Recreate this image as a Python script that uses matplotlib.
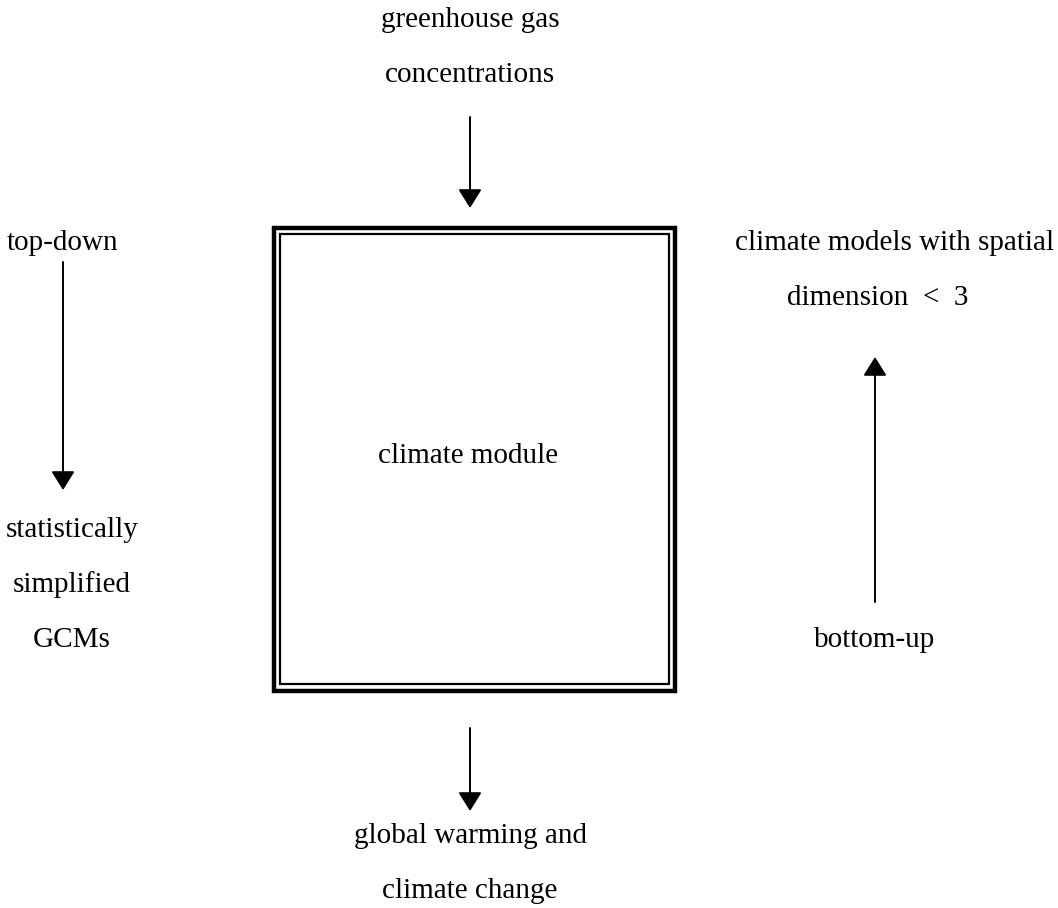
import matplotlib.pyplot as plt
from matplotlib.patches import Rectangle

plt.rcParams['font.family'] = ['Liberation Serif', 'DejaVu Serif']

# labels of the diagram
top_labels = ["greenhouse gas", "concentrations"]
bottom_labels = ["global warming and", "climate change"]
left_labels = ["top-down"]
left_bottom_labels = ["statistically", "simplified", "GCMs"]
right_labels = ["climate models with spatial"]
right_labels_2 = ["dimension  <  3"]
right_bottom_labels = ["bottom-up"]
centre_label = "climate module"

W, H = 1058, 908
fig = plt.figure(figsize=(W / 100, H / 100), dpi=100)
ax = fig.add_axes([0, 0, 1, 1])
ax.set_xlim(0, W)
ax.set_ylim(H, 0)
ax.axis('off')

fs = 21

# double framed box
ax.add_patch(Rectangle((273.5, 227.5), 401, 463, fill=False, lw=3.2, ec='black'))
ax.add_patch(Rectangle((280, 233.5), 389, 450, fill=False, lw=1.6, ec='black'))
ax.text(468, 456, centre_label, ha='center', va='center', fontsize=fs)

def stack(lines, x, y0, dy=55):
    for i, t in enumerate(lines):
        ax.text(x, y0 + i * dy, t, ha='center', va='center', fontsize=fs)

stack(top_labels, 470, 20)
stack(bottom_labels, 470, 836)
stack(left_labels, 63, 243)
stack(left_bottom_labels, 72, 530)
stack(right_labels, 895, 243)
stack(right_labels_2, 878, 298)
stack(right_bottom_labels, 875, 640)

def arrow(x, y_from, y_to):
    ax.annotate('', xy=(x, y_to), xytext=(x, y_from),
                arrowprops=dict(arrowstyle='-|>,head_length=0.32,head_width=0.2',
                                lw=1.4, color='black',
                                mutation_scale=36, shrinkA=0, shrinkB=0))

arrow(470, 117, 208)
arrow(63, 262, 490)
arrow(875, 602, 357)
arrow(470, 728, 811)

plt.savefig('out.png', dpi=100)
